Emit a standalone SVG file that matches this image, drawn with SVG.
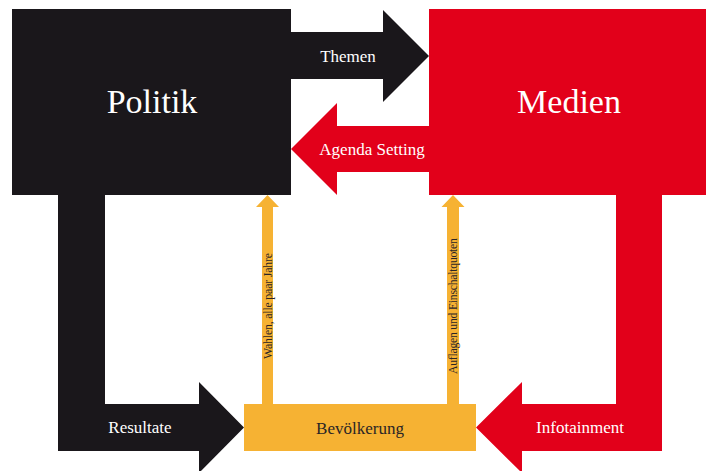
<svg xmlns="http://www.w3.org/2000/svg" width="706" height="471" viewBox="0 0 706 471">
<style>
.blk{fill:#1a171b}
.red{fill:#e2001a}
.org{fill:#f6b233}
text{font-family:"Liberation Serif","DejaVu Serif",serif;text-anchor:middle}
.wt{fill:#ffffff}
.dk{fill:#2a2526}
.big{font-size:34px}
.lbl{font-size:17px}
.sm{font-size:11.8px}
</style>
<rect width="706" height="471" fill="#ffffff"/>
<g id="connectors">
  <g id="c-themen">
    <polygon class="blk" points="291,32 383,32 383,10 429,56 383,102 383,79 291,79"/>
    <text class="wt lbl" x="348" y="62">Themen</text>
  </g>
  <g id="c-agenda">
    <polygon class="red" points="429,126 337,126 337,103 291,149 337,195 337,172 429,172"/>
    <text class="wt lbl" x="372" y="155">Agenda Setting</text>
  </g>
  <g id="c-resultate">
    <polygon class="blk" points="58,190 105,190 105,404 199,404 199,382 244,427.5 199,473 199,451 58,451"/>
    <text class="wt lbl" x="140" y="433">Resultate</text>
  </g>
  <g id="c-infotainment">
    <polygon class="red" points="662,190 616,190 616,404 522,404 522,382 476,427.5 522,473 522,451 662,451"/>
    <text class="wt lbl" x="580" y="433">Infotainment</text>
  </g>
  <g id="c-wahlen">
    <polygon class="org" points="262,404 262,207 256,207 267.5,195 279,207 273,207 273,404"/>
    <text class="dk sm" transform="translate(271.5,306) rotate(-90)" textLength="106" lengthAdjust="spacing">Wahlen, alle paar Jahre</text>
  </g>
  <g id="c-auflagen">
    <polygon class="org" points="447,404 447,207 441.5,207 453,195 464.5,207 459,207 459,404"/>
    <text class="dk sm" transform="translate(457,306) rotate(-90)" textLength="136" lengthAdjust="spacing">Auflagen und Einschaltquoten</text>
  </g>
</g>
<g id="politik">
  <rect class="blk" x="12" y="9" width="279" height="186"/>
  <text class="wt big" x="152" y="113">Politik</text>
</g>
<g id="medien">
  <rect class="red" x="429" y="9" width="277" height="186"/>
  <text class="wt big" x="569" y="113">Medien</text>
</g>
<g id="bevoelkerung">
  <rect class="org" x="244" y="404" width="232" height="47"/>
  <text class="dk lbl" x="360" y="434">Bevölkerung</text>
</g>
</svg>
